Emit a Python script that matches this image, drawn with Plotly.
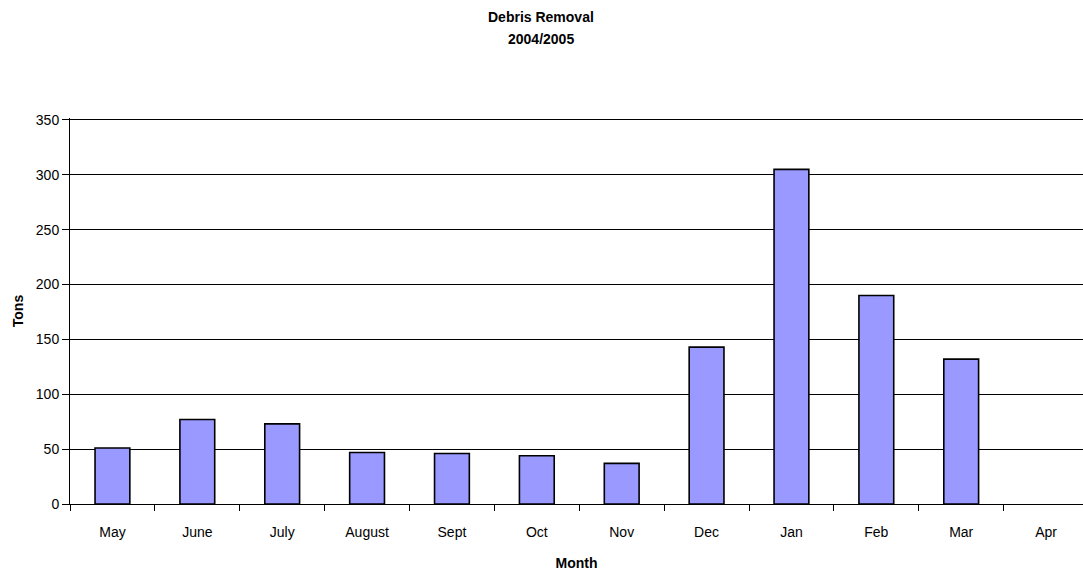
import plotly.graph_objects as go

months = ["May", "June", "July", "August", "Sept", "Oct", "Nov", "Dec", "Jan", "Feb", "Mar", "Apr"]
tons = [51, 77, 73, 47, 46, 44, 37, 143, 305, 190, 132, 0]
y_ticks = [0, 50, 100, 150, 200, 250, 300, 350]
title_lines = ["Debris Removal", "2004/2005"]

fig = go.Figure()
fig.add_trace(go.Bar(
    x=months, y=tons,
    marker=dict(color="#9999FF",
                line=dict(color="black", width=[1.6 if v else 0 for v in tons])),
    width=0.41,
))

font = dict(family="Liberation Sans, Arial, sans-serif", size=14, color="black")

H, T, B = 571, 118, 67
plot_h = H - T - B

fig.update_layout(
    width=1083, height=H,
    margin=dict(l=70, r=0, t=T, b=B),
    plot_bgcolor="white", paper_bgcolor="white",
    font=font,
    showlegend=False,
)
for line, ypix in zip(title_lines, [17, 39]):
    fig.add_annotation(
        text=f"<b>{line}</b>",
        xref="paper", yref="paper", x=(541 - 70) / (1083 - 70),
        y=1 + (T - ypix) / plot_h,
        xanchor="center", yanchor="middle", showarrow=False, font=dict(size=14),
    )
fig.update_xaxes(
    type="category",
    range=[-0.5, 11.435],
    showline=True, linecolor="black", linewidth=1,
    ticks="outside", tickson="boundaries", ticklen=6, tickcolor="black",
    ticklabelstandoff=15,
    showgrid=False,
    title=dict(text="<b>Month</b>", standoff=19, font=dict(size=14)),
)
fig.update_yaxes(
    range=[0, 351.8], tickvals=y_ticks,
    showline=True, linecolor="black", linewidth=1,
    ticks="outside", ticklen=7, tickcolor="black",
    showgrid=True, gridcolor="black", gridwidth=1,
    zeroline=False,
    title=dict(text="<b>Tons</b>", standoff=8, font=dict(size=14)),
)

fig.write_html("out.html")
